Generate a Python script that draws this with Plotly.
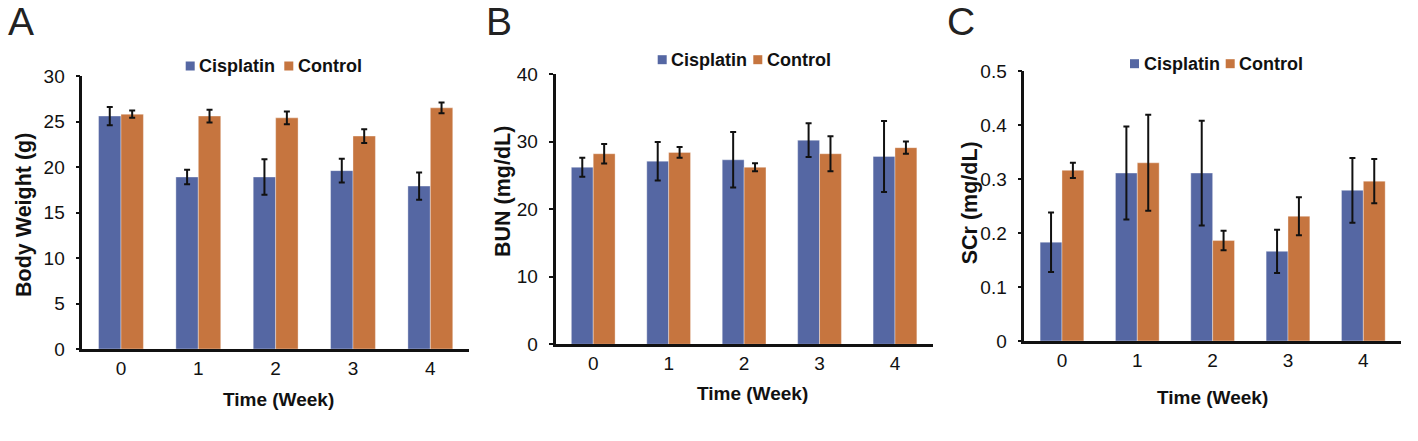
import plotly.graph_objects as go

# ---------------- data ----------------
weeks = [0, 1, 2, 3, 4]
week_labels = ["0", "1", "2", "3", "4"]
series_names = ["Cisplatin", "Control"]

bw_cis = [25.6, 18.9, 18.9, 19.6, 17.9]
bw_cis_err = [1.0, 0.8, 1.95, 1.3, 1.5]
bw_ctl = [25.8, 25.6, 25.4, 23.4, 26.5]
bw_ctl_err = [0.4, 0.7, 0.7, 0.75, 0.6]

bun_cis = [26.2, 27.1, 27.3, 30.2, 27.8]
bun_cis_err = [1.4, 2.85, 4.1, 2.5, 5.25]
bun_ctl = [28.2, 28.4, 26.2, 28.2, 29.1]
bun_ctl_err = [1.45, 0.8, 0.6, 2.6, 0.9]

scr_cis = [0.183, 0.311, 0.311, 0.166, 0.279]
scr_cis_err = [0.055, 0.086, 0.097, 0.04, 0.06]
scr_ctl = [0.316, 0.330, 0.186, 0.231, 0.296]
scr_ctl_err = [0.014, 0.089, 0.018, 0.035, 0.041]

panel_letters = ["A", "B", "C"]
y_titles = ["Body Weight (g)", "BUN (mg/dL)", "SCr (mg/dL)"]
x_title = "Time (Week)"
y_ranges = [[0, 30], [0, 40], [0, 0.5]]
y_dticks = [5, 10, 0.1]

# ---------------- style ----------------
W, H = 1418, 441
BLUE = "#5567A3"
ORANGE = "#C6753F"
FONT = "Liberation Sans, Arial, sans-serif"
INK = "#111111"

# panel pixel boxes: (left, right, top, bottom)
boxes = [(82.3, 469.0, 76.0, 349.0),
         (555.5, 932.7, 74.0, 344.3),
         (1024.3, 1401.0, 71.0, 341.0)]
letter_pos = [(21, 21.5), (499, 21.5), (961, 21.5)]
legend_pos = [(185.7, 66.0, 284.3), (657.7, 59.7, 753.3), (1130.0, 63.7, 1225.7)]
xtitle_pos = [(278, 399), (753, 393), (1212.5, 397)]
ytitle_pos = [(24, 215), (502.3, 191.7), (970, 203.3)]

def px(x):
    return x / W

def py(y):
    return 1 - y / H

fig = go.Figure()

data = [
    (bw_cis, bw_cis_err, bw_ctl, bw_ctl_err),
    (bun_cis, bun_cis_err, bun_ctl, bun_ctl_err),
    (scr_cis, scr_cis_err, scr_ctl, scr_ctl_err),
]

for i, (c, ce, k, ke) in enumerate(data):
    xa = "x" if i == 0 else f"x{i+1}"
    ya = "y" if i == 0 else f"y{i+1}"
    for vals, errs, name, col in [(c, ce, series_names[0], BLUE), (k, ke, series_names[1], ORANGE)]:
        fig.add_trace(go.Bar(
            x=weeks, y=vals, name=name, xaxis=xa, yaxis=ya,
            marker=dict(color=col, line=dict(color="rgba(255,255,255,0.6)", width=0.6)),
            error_y=dict(type="data", array=errs, visible=True,
                         color="#111111", thickness=2, width=3),
            offsetgroup=name, showlegend=False,
        ))

annotations = []
shapes = []
for i in range(3):
    l, r, t, b = boxes[i]
    sfx = "" if i == 0 else str(i + 1)
    fig.layout["xaxis" + sfx] = dict(
        domain=[px(l), px(r)], anchor="y" + sfx, range=[-0.5, 4.5], automargin=False,
        tickvals=weeks, ticktext=week_labels, ticks="",
        showline=True, linecolor=INK, linewidth=2.5, showgrid=False, zeroline=False,
        tickfont=dict(family=FONT, size=19, color=INK),
        fixedrange=True,
    )
    fig.layout["yaxis" + sfx] = dict(
        domain=[py(b), py(t)], anchor="x" + sfx, range=y_ranges[i], dtick=y_dticks[i],
        automargin=False,
        showline=True, linecolor=INK, linewidth=2.5, showgrid=False, zeroline=False,
        ticks="outside", ticklen=4, tickwidth=2, tickcolor=INK,
        tickfont=dict(family=FONT, size=19, color=INK), ticklabelstandoff=7,
        fixedrange=True,
    )
    # axis titles
    tx, ty = xtitle_pos[i]
    annotations.append(dict(text=f"<b>{x_title}</b>", x=px(tx), y=py(ty), xref="paper", yref="paper",
                            xanchor="center", yanchor="middle", showarrow=False,
                            font=dict(family=FONT, size=19, color=INK)))
    vx, vy = ytitle_pos[i]
    annotations.append(dict(text=f"<b>{y_titles[i]}</b>", x=px(vx), y=py(vy), xref="paper", yref="paper",
                            xanchor="center", yanchor="middle", showarrow=False, textangle=-90,
                            font=dict(family=FONT, size=21.5, color=INK)))
    # panel letter
    lx, ly = letter_pos[i]
    annotations.append(dict(text=panel_letters[i], x=px(lx), y=py(ly), xref="paper", yref="paper",
                            xanchor="center", yanchor="middle", showarrow=False,
                            font=dict(family=FONT, size=39, color="#222222")))
    # legend
    sx1, sy, sx2 = legend_pos[i]
    for sx, name, col in [(sx1, series_names[0], BLUE), (sx2, series_names[1], ORANGE)]:
        shapes.append(dict(type="rect", xref="paper", yref="paper",
                           x0=px(sx), x1=px(sx + 9), y0=py(sy + 4.5), y1=py(sy - 4.5),
                           fillcolor=col, line=dict(width=0)))
        annotations.append(dict(text=f"<b>{name}</b>", x=px(sx + 11.5), y=py(sy), xref="paper", yref="paper",
                                xanchor="left", yanchor="middle", showarrow=False,
                                font=dict(family=FONT, size=18, color=INK)))

fig.update_layout(
    width=W, height=H, autosize=False,
    margin=dict(l=0, r=0, t=0, b=0, pad=0),
    paper_bgcolor="white", plot_bgcolor="white",
    barmode="group", bargap=0.42, bargroupgap=0,
    annotations=annotations, shapes=shapes,
    showlegend=False,
)

fig.write_html(
    "out.html",
    config={"displayModeBar": False},
    post_script="document.body.style.margin='0';document.body.style.overflow='hidden';",
)
